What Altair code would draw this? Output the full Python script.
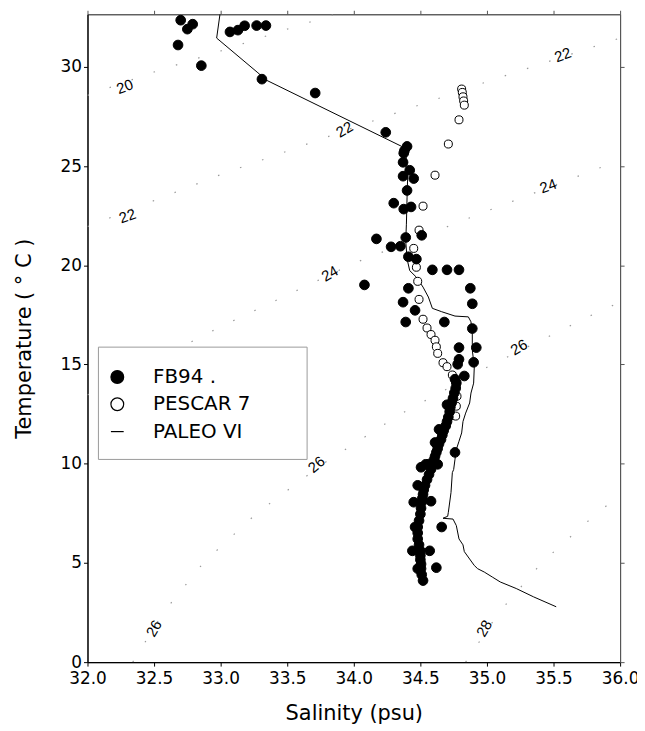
import altair as alt
import pandas as pd

# ---------------- data ----------------
fb94_sal = [32.70, 32.79, 32.75, 32.68, 32.855, 33.07, 33.13, 33.18, 33.27, 33.34, 33.31, 33.71,
            34.24,
            34.40, 34.38, 34.375, 34.37, 34.42, 34.37, 34.45, 34.40, 34.30, 34.375, 34.43, 34.51,
            34.39, 34.17, 34.28, 34.35,
            34.41, 34.47, 34.59, 34.70, 34.79, 34.08, 34.41, 34.875, 34.37, 34.89, 34.46, 34.39,
            34.68, 34.89, 34.79, 34.92,
            34.79, 34.90, 34.78, 34.83, 34.76,
            34.77, 34.765, 34.755, 34.745, 34.735, 34.725, 34.72, 34.71, 34.70, 34.69, 34.675,
            34.665, 34.655, 34.64, 34.63, 34.62, 34.61, 34.60, 34.595, 34.58, 34.565, 34.55,
            34.535, 34.525, 34.52, 34.515, 34.51, 34.505, 34.50, 34.49, 34.48, 34.48, 34.48,
            34.49, 34.50, 34.50, 34.50, 34.505, 34.505, 34.51, 34.52,
            34.48, 34.45, 34.58, 34.46, 34.66, 34.44, 34.57, 34.48, 34.62, 34.56, 34.63, 34.505,
            34.76, 34.70, 34.64, 34.61, 34.54]
fb94_temp = [32.35, 32.15, 31.90, 31.10, 30.06, 31.76, 31.85, 32.07, 32.08, 32.08, 29.38, 28.68,
             26.70,
             25.99, 25.77, 25.65, 25.19, 24.79, 24.49, 24.37, 23.77, 23.13, 22.83, 22.94, 21.51,
             21.40, 21.33, 20.93, 20.96,
             20.43, 20.31, 19.77, 19.77, 19.77, 19.01, 18.84, 18.84, 18.14, 18.06, 17.73, 17.14,
             17.14, 16.81, 15.85, 15.85,
             15.26, 15.11, 15.01, 14.42, 14.26,
             14.07, 13.80, 13.57, 13.30, 13.07, 12.85, 12.62, 12.35, 12.12, 11.90, 11.67,
             11.45, 11.22, 11.00, 10.77, 10.57, 10.37, 10.17, 9.97, 9.72, 9.46, 9.20,
             8.91, 8.68, 8.46, 8.26, 8.06, 7.76, 7.46, 7.13, 6.81, 6.51, 6.21,
             5.91, 5.61, 5.38, 5.16, 4.94, 4.71, 4.41, 4.11,
             8.91, 8.06, 8.11, 6.81, 6.81, 5.61, 5.61, 4.71, 4.76, 9.97, 9.97, 9.82,
             10.57, 12.97, 11.73, 11.07, 9.97]

pescar_sal = [34.81, 34.815, 34.82, 34.825, 34.83, 34.79, 34.71, 34.61, 34.52, 34.49, 34.45,
              34.47, 34.48, 34.49, 34.52, 34.55, 34.58, 34.61, 34.62, 34.63, 34.67, 34.70, 34.74,
              34.77, 34.775, 34.77, 34.765]
pescar_temp = [28.88, 28.71, 28.49, 28.28, 28.07, 27.33, 26.11, 24.54, 22.98, 21.77, 20.85,
               19.90, 19.19, 18.28, 17.28, 16.84, 16.51, 16.22, 15.89, 15.56, 15.09, 14.89, 14.47,
               13.90, 13.40, 12.90, 12.40]

paleo_sal = [32.995, 32.97, 33.28, 33.34, 34.36, 34.39, 34.405, 34.40, 34.395, 34.39, 34.40,
             34.42, 34.47, 34.52, 34.56, 34.59, 34.66, 34.76, 34.86, 34.88, 34.89, 34.89, 34.905,
             34.90, 34.88, 34.87, 34.84, 34.82, 34.81, 34.79, 34.77, 34.76, 34.75, 34.74, 34.73,
             34.71, 34.705, 34.67, 34.745, 34.77, 34.79, 34.82, 34.83, 34.905, 34.93, 34.98,
             35.04, 35.10, 35.22, 35.35, 35.52]
paleo_temp = [32.65, 31.45, 29.70, 29.34, 25.99, 25.65, 24.57, 23.40, 22.07, 21.23, 20.32,
              19.73, 19.40, 18.90, 18.40, 17.83, 17.66, 17.44, 17.40, 17.15, 16.56, 15.72, 14.89,
              14.06, 13.56, 13.06, 12.55, 12.13, 11.55, 11.13, 10.72, 10.22, 9.71, 9.55, 8.55,
              7.55, 7.35, 7.25, 7.21, 6.88, 6.21, 5.91, 5.57, 4.87, 4.71, 4.54,
              4.29, 4.04, 3.71, 3.29, 2.79]

# sigma-t isopycnals
sig_levels = ["20", "22", "24", "26", "28"]
sig20_sal = [32.0, 32.5, 33.0, 33.5, 34.0]
sig20_temp = [28.56, 29.74, 30.80, 31.90, 32.95]
sig22_sal = [32.0, 33.0, 34.0, 35.0, 36.0]
sig22_temp = [21.95, 24.57, 26.94, 29.25, 31.45]
sig24_sal = [32.0, 33.0, 34.0, 35.0, 36.0]
sig24_temp = [13.47, 16.90, 20.10, 22.73, 25.30]
sig26_sal = [32.34, 32.57, 32.87, 33.27, 33.77, 34.35, 35.04, 35.79, 36.05]
sig26_temp = [0.0, 2.5, 5.0, 7.5, 10.0, 12.5, 15.0, 17.5, 18.3]
sig28_sal = [34.84, 35.09, 35.41, 35.74, 35.99]
sig28_temp = [0.0, 2.5, 5.0, 7.0, 8.4]

lab_text = ["20", "22", "22", "22", "24", "24", "26", "26", "26", "28"]
lab_sal = [32.28, 32.30, 33.93, 35.57, 33.82, 35.46, 35.24, 33.72, 32.50, 34.98]
lab_temp = [29.00, 22.48, 26.84, 30.60, 19.58, 23.99, 15.87, 9.96, 1.70, 1.70]
lab_angle = [340, 340, 330, 340, 330, 340, 330, 320, 300, 300]

x_ticks = [32.0, 32.5, 33.0, 33.5, 34.0, 34.5, 35.0, 35.5, 36.0]
y_ticks = [0, 5, 10, 15, 20, 25, 30]
series_names = ["FB94 .", "PESCAR 7", "PALEO VI"]

# ---------------- tables ----------------
sig_rows = []
for lvl, ss, tt in zip(sig_levels,
                       [sig20_sal, sig22_sal, sig24_sal, sig26_sal, sig28_sal],
                       [sig20_temp, sig22_temp, sig24_temp, sig26_temp, sig28_temp]):
    for i, (s, t) in enumerate(zip(ss, tt)):
        sig_rows.append({"S": s, "T": t, "level": lvl, "i": i})
sig_df = pd.DataFrame(sig_rows)

lab_df = pd.DataFrame({"S": lab_sal, "T": lab_temp, "txt": lab_text, "ang": lab_angle})

fb_df = pd.DataFrame({"S": fb94_sal, "T": fb94_temp, "series": ["FB94 ."] * len(fb94_sal)})
pe_df = pd.DataFrame({"S": pescar_sal, "T": pescar_temp, "series": ["PESCAR 7"] * len(pescar_sal)})
paleo_df = pd.DataFrame({"S": paleo_sal, "T": paleo_temp, "i": list(range(len(paleo_sal)))})

xs = alt.Scale(domain=[32, 36], nice=False, zero=False)
ys = alt.Scale(domain=[0, 32.65], nice=False, zero=False)

FONT = "DejaVu Sans"

xenc = alt.X("S:Q", scale=xs, axis=alt.Axis(values=x_ticks, format=".1f", title="Salinity (psu)",
                                            labelPadding=5, titlePadding=16))
yenc = alt.Y("T:Q", scale=ys, axis=alt.Axis(values=y_ticks, title="Temperature ( ° C )",
                                            titlePadding=26))
xenc_top = alt.X("S:Q", scale=xs, axis=alt.Axis(orient="top", values=x_ticks, labels=False, title=None,
                                                domainColor="#555", domainWidth=1, tickColor="#555"))
yenc_right = alt.Y("T:Q", scale=ys, axis=alt.Axis(orient="right", values=y_ticks, labels=False, title=None,
                                                  domainColor="#555", domainWidth=1, tickColor="#555"))
xnone = alt.X("S:Q", scale=xs, axis=None)
ynone = alt.Y("T:Q", scale=ys, axis=None)

contours = alt.Chart(sig_df).mark_line(
    clip=True, color="#9a9a9a", strokeWidth=1.2, strokeDash=[1.5, 22]
).encode(x=xenc, y=yenc, detail="level:N", order="i:Q")

labels = alt.Chart(lab_df).mark_text(
    fontSize=15, font="Liberation Sans", color="black"
).encode(x=xenc_top, y=yenc_right, text="txt:N", angle=alt.Angle("ang:Q", scale=None))

legend_box = alt.Chart(pd.DataFrame({"k": [0]})).mark_rect(
    fill="white", stroke="#9a9a9a", strokeWidth=1
).encode(x=alt.value(11), x2=alt.value(221), y=alt.value(335), y2=alt.value(448))

paleo = alt.Chart(paleo_df).mark_line(color="black", strokeWidth=1, clip=True).encode(
    x=xnone, y=ynone, order="i:Q")

leg = alt.Legend(title=None, zindex=1, orient="none", legendX=20, legendY=355,
                 padding=0, strokeColor="transparent")
shape_enc = alt.Shape("series:N", scale=alt.Scale(domain=series_names, range=["circle", "circle", "stroke"]),
                      legend=leg)
fill_enc = alt.Fill("series:N", scale=alt.Scale(domain=series_names, range=["black", "white", "black"]),
                    legend=leg)
stroke_enc = alt.Stroke("series:N", scale=alt.Scale(domain=series_names, range=["black", "black", "black"]),
                        legend=leg)

pescar = alt.Chart(pe_df).mark_point(filled=True, opacity=1, strokeWidth=1, size=65).encode(
    x=xnone, y=ynone, shape=shape_enc, fill=fill_enc, stroke=stroke_enc)
fb94 = alt.Chart(fb_df).mark_point(filled=True, opacity=1, strokeWidth=1, size=95).encode(
    x=xnone, y=ynone, shape=shape_enc, fill=fill_enc, stroke=stroke_enc)

chart = alt.layer(contours, labels, legend_box, paleo, pescar, fb94).resolve_axis(
    x="independent", y="independent"
).properties(
    width=536, height=652,
    padding={"left": 80, "top": 4, "right": 17, "bottom": 66},
    autosize=alt.AutoSizeParams(type="none"),
).configure_view(
    stroke="#555", strokeWidth=1
).configure_axis(
    grid=False, labelFont=FONT, titleFont=FONT,
    labelFontSize=17, titleFontSize=21, titleFontWeight="normal",
    labelColor="black", titleColor="black", domainColor="black", tickColor="black",
    domainWidth=1.3, tickSize=4, labelPadding=2
).configure_axisX(
    labelFlush=False
).configure_legend(
    labelFontSize=20, labelFont=FONT,
    labelColor="black", symbolSize=165, symbolStrokeWidth=1.2, labelOffset=26,
    rowPadding=7.5
)

chart.save("out.html", embed_options={"renderer": "svg", "actions": False})
